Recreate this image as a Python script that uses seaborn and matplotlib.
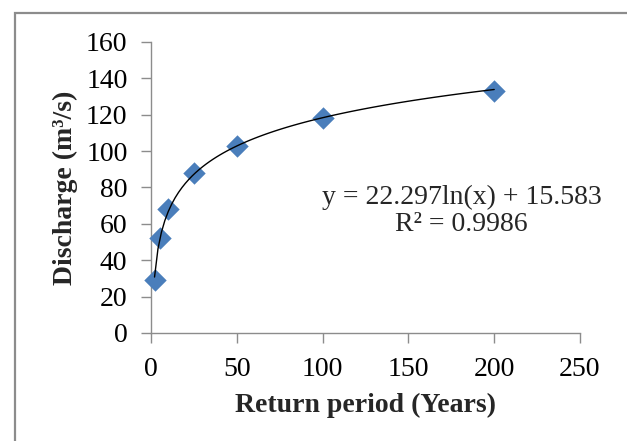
import pandas as pd
import seaborn as sns
import matplotlib
matplotlib.use("Agg")
import matplotlib.pyplot as plt
from matplotlib.patches import Rectangle

# Return period (years) and peak discharge (m3/s)
return_period = [2, 5, 10, 25, 50, 100, 200]
discharge = [29, 52, 68, 88, 103, 118, 133]
equation_text = "y = 22.297ln(x) + 15.583\nR\u00b2 = 0.9986"

df = pd.DataFrame({"Return period": return_period, "Discharge": discharge})

sns.set_style("white")
plt.rcParams["font.family"] = ["Liberation Serif", "DejaVu Serif"]

fig = plt.figure(figsize=(6.27, 4.41), dpi=100)
ax = fig.add_axes([0.241, 0.245, 0.684, 0.66])

# gray frame around the chart area
fig.patches.append(Rectangle((15 / 627, -0.1), 1.0, 1 - 13 / 441 + 0.1,
                             transform=fig.transFigure, fill=False,
                             edgecolor="#8c8c8c", linewidth=1.6))

sns.regplot(data=df, x="Return period", y="Discharge", logx=True, ci=None,
            ax=ax, marker="D",
            scatter_kws={"s": 130, "color": "#4a7ebb", "alpha": 1,
                         "linewidths": 0, "zorder": 3, "clip_on": False},
            line_kws={"color": "black", "linewidth": 1.0, "zorder": 4})

ax.set_xlim(0, 250)
ax.set_ylim(0, 160)
ax.set_xticks([0, 50, 100, 150, 200, 250])
ax.set_yticks(range(0, 161, 20))

for side in ["top", "right"]:
    ax.spines[side].set_visible(False)
for side in ["left", "bottom"]:
    ax.spines[side].set_color("#8c8c8c")
    ax.spines[side].set_linewidth(1.0)

ax.tick_params(axis="both", direction="out", length=7, width=1.0,
               color="#8c8c8c", labelsize=20, labelcolor="black",
               bottom=True, left=True)
ax.tick_params(axis="y", pad=10)
ax.tick_params(axis="x", pad=10)

ax.set_xlabel("Return period (Years)", fontsize=20, fontweight="bold", labelpad=8)
ax.set_ylabel("Discharge (m\u00b3/s)", fontsize=20, fontweight="bold", labelpad=6)

ax.text(181, 67, equation_text, ha="center", va="center", fontsize=20,
        linespacing=1.12)

fig.savefig("out.png", dpi=100)
